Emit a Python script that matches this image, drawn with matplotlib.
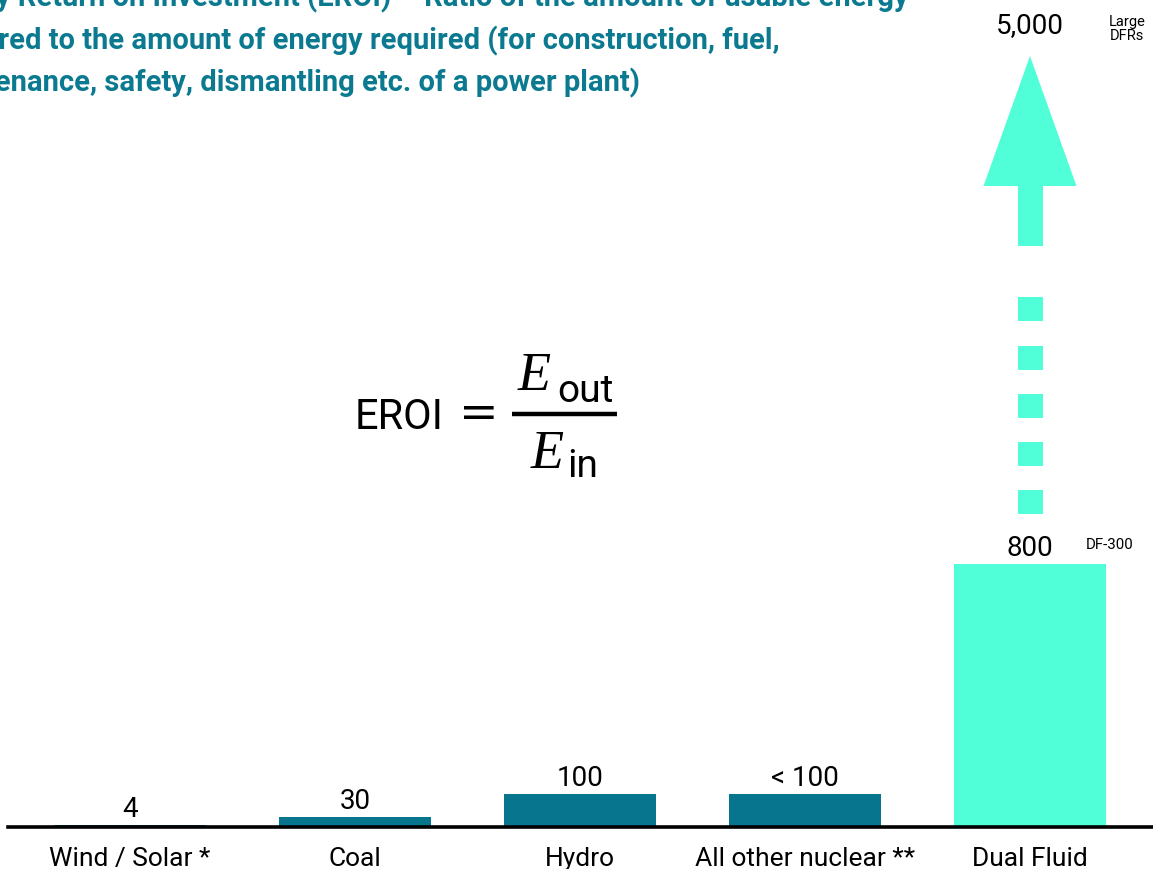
import matplotlib
matplotlib.use("Agg")
import matplotlib.pyplot as plt
from matplotlib.patches import Polygon, Rectangle
from matplotlib.lines import Line2D
from matplotlib.transforms import blended_transform_factory

plt.rcParams['font.family'] = ['Roboto', 'DejaVu Sans']

# ---- data ----
categories = ["Wind / Solar *", "Coal", "Hydro", "All other nuclear **", "Dual Fluid"]
values = [4, 30, 100, 100, 800]
value_labels = ["4", "30", "100", "< 100", "800"]
bar_colors = ["#07758E", "#07758E", "#07758E", "#07758E", "#50FFD8"]
top_label = "5,000"
top_note = "Large\nDFRs"
df_note = "DF-300"
title_lines = [
    "Energy Return on Investment (EROI) \u2013 Ratio of the amount of usable energy",
    "delivered to the amount of energy required (for construction, fuel,",
    "maintenance, safety, dismantling etc. of a power plant)",
]

W, H = 1153, 870
fig = plt.figure(figsize=(W / 100, H / 100), dpi=100)
ax = fig.add_axes([0, 0, 1, 1])

px_per_unit = 0.328
base_px = 827.5
ax.set_ylim(-(H - base_px) / px_per_unit, base_px / px_per_unit)
spacing = 225.0
x0 = 130.0
ax.set_xlim(-x0 / spacing, (W - x0) / spacing)
ax.set_axis_off()

xs = list(range(len(categories)))
ax.bar(xs, values, width=152 / spacing, color=bar_colors, zorder=2)
ax.axhline(0, xmin=8 / W, xmax=1, color="black", lw=2.6, zorder=3)


def fy(ypx):
    """pixel-from-top -> axes fraction"""
    return 1 - ypx / H


tr = blended_transform_factory(ax.transData, ax.transAxes)

for x, cat in zip(xs, categories):
    ax.text(x, fy(866), cat, transform=tr, ha="center", va="baseline", fontsize=19)

for x, v, lab in zip(xs, values, value_labels):
    ax.annotate(lab, (x, v), xytext=(0, 6.5), textcoords="offset points",
                ha="center", va="baseline", fontsize=20)

cx = xs[-1]
hw_shaft = 12.5 / spacing
hw_head = 46.5 / spacing
cyan = bar_colors[-1]
ax.add_patch(Polygon([(cx - hw_head, fy(187)), (cx + hw_head, fy(187)), (cx, fy(57))],
                     closed=True, transform=tr, color=cyan, lw=0))
ax.add_patch(Rectangle((cx - hw_shaft, fy(247)), 2 * hw_shaft, fy(187) - fy(247),
                       transform=tr, color=cyan, lw=0))
for top in [298, 347, 395, 443, 491]:
    ax.add_patch(Rectangle((cx - hw_shaft, fy(top + 24)), 2 * hw_shaft, 24 / H,
                           transform=tr, color=cyan, lw=0))

ax.text(cx, fy(26), top_label, transform=tr, ha="center", va="center", fontsize=20)
ax.text(1127 / W, fy(29), top_note, transform=ax.transAxes, ha="center", va="center",
        fontsize=10.5, linespacing=1.0)
ax.text(1086 / W, fy(545), df_note, transform=ax.transAxes, ha="left", va="center",
        fontsize=10.8)

# ---- formula  EROI = E_out / E_in ----
T = ax.transAxes
ax.text(443 / W, fy(429), "EROI", transform=T, ha="right", va="baseline", fontsize=30)
ax.text(479 / W, fy(415), "=", transform=T, ha="center", va="center", fontsize=34,
        family="DejaVu Sans")
ax.add_line(Line2D([512 / W, 617 / W], [fy(415), fy(415)], transform=T,
                   color="black", lw=3.2, solid_capstyle="butt"))
ax.text(518 / W, fy(390), "E", transform=T, ha="left", va="baseline", fontsize=39,
        family="Liberation Serif", style="italic")
ax.text(557 / W, fy(402), "out", transform=T, ha="left", va="baseline", fontsize=28)
ax.text(531 / W, fy(468), "E", transform=T, ha="left", va="baseline", fontsize=39,
        family="Liberation Serif", style="italic")
ax.text(567 / W, fy(477), "in", transform=T, ha="left", va="baseline", fontsize=28)

# ---- title (cropped at top/left) ----
title_color = "#0B7A90"
for line, xr, yb in zip(title_lines, [908, 780, 640], [6, 49, 91]):
    fig.text(xr / W, 1 - yb / H, line, ha="right", va="baseline", fontsize=21,
             fontweight="bold", color=title_color)

fig.savefig("out.png", dpi=100)
